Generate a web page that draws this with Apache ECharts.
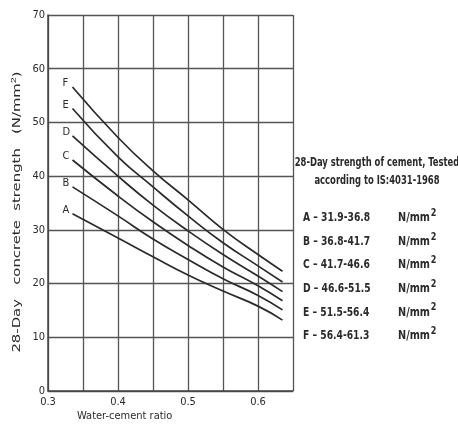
<!DOCTYPE html>
<html>
<head>
<meta charset="utf-8">
<script src="https://cdn.jsdelivr.net/npm/echarts@6/dist/echarts.min.js"></script>
<style>
  html, body { margin: 0; padding: 0; background: #fff; }
  #chart { width: 458px; height: 432px; }
</style>
</head>
<body>
<div id="chart"></div>
<script>
// water-cement ratio where the curves are sampled
const wcRatio = [0.335, 0.4, 0.45, 0.5, 0.55, 0.6, 0.635]

// 28-day concrete strength, one list per cement grade
const strengthA = [33.0, 28.5, 25.0, 21.6, 18.6, 15.8, 13.2]
const strengthB = [38.0, 32.6, 28.3, 24.5, 20.9, 17.8, 15.1]
const strengthC = [43.0, 36.3, 31.5, 27.1, 23.1, 19.6, 16.8]
const strengthD = [47.5, 40.0, 34.6, 29.8, 25.4, 21.4, 18.5]
const strengthE = [52.6, 43.6, 38.0, 32.6, 27.6, 23.3, 20.3]
const strengthF = [56.6, 47.2, 41.0, 35.6, 30.1, 25.4, 22.3]

const curveNames = ["A", "B", "C", "D", "E", "F"]
const cementRanges = ["31.9-36.8", "36.8-41.7", "41.7-46.6", "46.6-51.5", "51.5-56.4", "56.4-61.3"]

const curves = [strengthA, strengthB, strengthC, strengthD, strengthE, strengthF]
const ink = "#2a2a2a"
const font = "'DejaVu Sans Condensed', sans-serif"

function makeSeries(name, values) {
    let data = values.map((v, i) => {
        let item = { value: [wcRatio[i], v] }
        if (i == 0) {
            item.label = {
                show: true,
                formatter: name,
                position: [-10, -9],
                color: ink,
                fontFamily: font,
                fontSize: 11
            }
        }
        return item
    })
    return {
        name: name,
        type: "line",
        smooth: 0.5,
        symbol: "circle",
        symbolSize: 0,
        showSymbol: true,
        data: data,
        lineStyle: { color: ink, width: 1.7 },
        itemStyle: { color: ink },
        label: { show: false }
    }
}

let graphics = [
    {
        type: "text", x: 17, y: 212, rotation: Math.PI / 2, scaleX: 1.35,
        style: {
            text: "28-Day   concrete  strength   (N/mm{sup|2})",
            fill: ink, font: "11px 'DejaVu Sans', sans-serif", align: "center", verticalAlign: "middle",
            rich: { sup: { fontSize: 8, padding: [0, 0, 7, 0], fill: ink } }
        }
    },
    {
        type: "text", x: 77, y: 411,
        style: { text: "Water-cement ratio", fill: ink, font: "11px " + font }
    },
    {
        type: "text", x: 377, y: 163, scaleX: 0.78,
        style: { text: "28-Day strength of cement, Tested", fill: ink, font: "bold 12px " + font, align: "center", verticalAlign: "middle" }
    },
    {
        type: "text", x: 377, y: 181, scaleX: 0.78,
        style: { text: "according to IS:4031-1968", fill: ink, font: "bold 12px " + font, align: "center", verticalAlign: "middle" }
    }
]

curveNames.forEach((n, i) => {
    let y = 218 + i * 23.6
    graphics.push({
        type: "text", x: 303, y: y, scaleX: 0.85,
        style: { text: n + " \u2013 " + cementRanges[i], fill: ink, font: "bold 12px " + font, verticalAlign: "middle" }
    })
    graphics.push({
        type: "text", x: 398, y: y, scaleX: 0.9,
        style: {
            text: "N/mm{sup|2}", fill: ink, font: "bold 12px " + font, verticalAlign: "middle",
            rich: { sup: { fontSize: 10, fontWeight: "bold", fontFamily: font, padding: [0, 0, 9, 1], fill: ink } }
        }
    })
})

let chart = echarts.init(document.getElementById("chart"), null, { renderer: "canvas" })
chart.setOption({
    backgroundColor: "#fff",
    animation: false,
    grid: { left: 48, top: 15, width: 245, height: 376 },
    xAxis: {
        type: "value",
        min: 0.3, max: 0.65, interval: 0.05,
        axisLine: { show: true, lineStyle: { color: "#444", width: 1.5 } },
        axisTick: { show: false },
        axisLabel: {
            color: ink, fontFamily: font, fontSize: 11, margin: 6,
            formatter: v => {
                let t = v * 10
                return Math.abs(t - Math.round(t)) < 1e-6 ? v.toFixed(1) : ""
            }
        },
        splitLine: { show: true, lineStyle: { color: "#555", width: 1.3 } }
    },
    yAxis: {
        type: "value",
        min: 0, max: 70, interval: 10,
        axisLine: { show: true, lineStyle: { color: "#444", width: 1.5 } },
        axisTick: { show: false },
        axisLabel: { color: ink, fontFamily: font, fontSize: 11, margin: 3 },
        splitLine: { show: true, lineStyle: { color: "#555", width: 1.3 } }
    },
    series: curveNames.map((n, i) => makeSeries(n, curves[i])),
    graphic: graphics
})
</script>
</body>
</html>
